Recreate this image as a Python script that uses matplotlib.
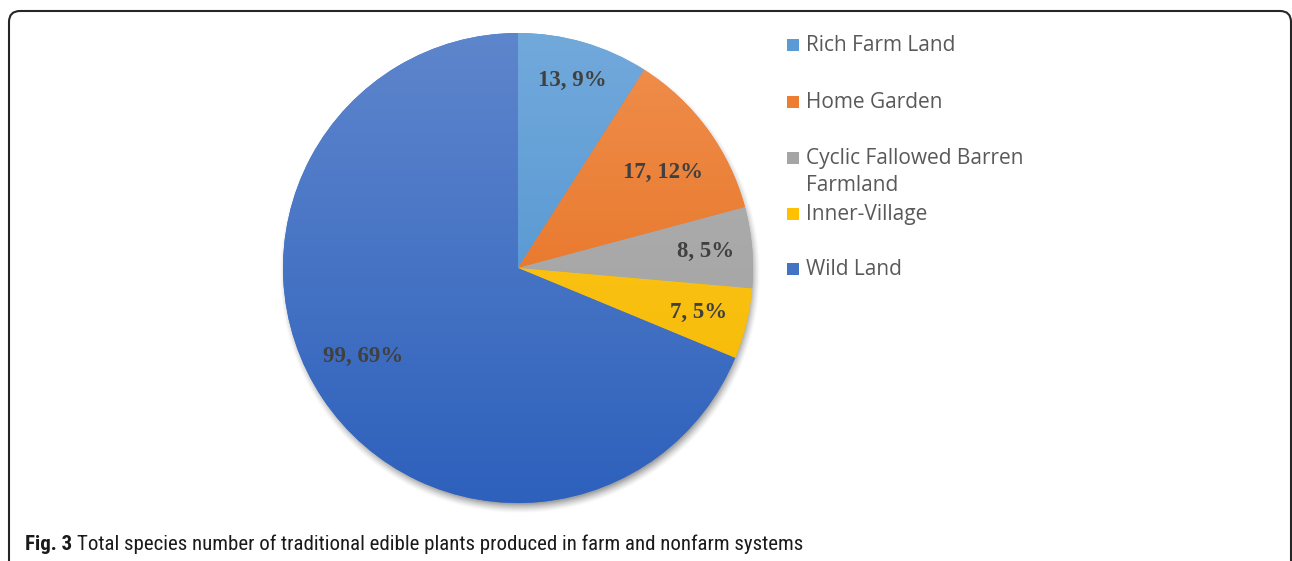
import numpy as np
import matplotlib
matplotlib.use("Agg")
import matplotlib.pyplot as plt
import matplotlib.colors as mcolors
from matplotlib.patches import FancyBboxPatch

# species counts per land-use system (clockwise from 12 o'clock)
systems = ["Rich Farm Land", "Home Garden", "Cyclic Fallowed Barren\nFarmland",
           "Inner-Village", "Wild Land"]
species = [13, 17, 8, 7, 99]
share_pct = [9, 12, 5, 5, 69]
colors = ["#5B9BD5", "#ED7D31", "#A5A5A5", "#FFC000", "#4472C4"]

W, H = 1292, 561
fig = plt.figure(figsize=(W / 100, H / 100), dpi=100)
ax = fig.add_axes([0, 0, 1, 1])

cx, cy, R = 518, H - 268, 235


def tint(c, f):
    c = np.array(mcolors.to_rgb(c))
    return c + (1 - c) * f


def shade(c, sat=1.16, val=0.96):
    h, s, v = mcolors.rgb_to_hsv(mcolors.to_rgb(c))
    return mcolors.hsv_to_rgb((h, min(s * sat, 1), v * val))


# soft drop shadow under the pie
xs = np.arange(cx - R - 20, cx + R + 20)
ys = np.arange(cy - R - 20, cy + R + 20)
gx, gy = np.meshgrid(xs, ys)
d = np.hypot(gx - (cx + 2), gy - (cy - 5))
a = np.clip((R + 6 - d) / 10, 0, 1) ** 1.4 * 0.5
shadow = np.zeros(d.shape + (4,))
shadow[..., :3] = 0.25
shadow[..., 3] = a
ax.imshow(shadow, extent=(xs[0], xs[-1], ys[0], ys[-1]), origin="lower",
          zorder=1, interpolation="bilinear")

labels_iter = iter(f"{v}, {p}%" for v, p in zip(species, share_pct))
wedges, _, autotexts = ax.pie(
    species, colors=colors, startangle=90, counterclock=False,
    center=(cx, cy), radius=R, autopct=lambda p: next(labels_iter),
    pctdistance=0.79, wedgeprops=dict(linewidth=0),
    textprops=dict(family="Liberation Serif", weight="bold", size=16.5,
                   color="#404040"),
    frame=True,
)
ax.set_xlim(0, W)
ax.set_ylim(0, H)
ax.set_aspect("equal")
ax.axis("off")

# each slice filled with a vertical gradient, lighter at the top
tt = np.linspace(0, 1, 256)[:, None]  # 0 = bottom, 1 = top
for w, col in zip(wedges, colors):
    w.set_zorder(2)
    top, bot = tint(col, 0.14), shade(col)
    grad = (bot + (top - bot) * tt)[:, None, :]
    img = ax.imshow(grad, extent=(cx - R, cx + R, cy - R, cy + R),
                    origin="lower", aspect="auto", zorder=3,
                    interpolation="bilinear")
    img.set_clip_path(w)

# nudge each data label along its slice's mid-angle
label_r = [0.83, 0.74, 0.80, 0.79, 0.76]
label_dang = [0, -3, 0, 0, -4]
for w, t, r, da in zip(wedges, autotexts, label_r, label_dang):
    ang = np.deg2rad((w.theta1 + w.theta2) / 2 + da)
    t.set_position((cx + r * R * np.cos(ang), cy + r * R * np.sin(ang)))
    t.set_zorder(4)

# legend entries on the right
leg_font = dict(family="Open Sans", size=15, color="#595959")
row_y = [44, 101, 157, 213, 268]
for name, col, y in zip(systems, colors, row_y):
    ax.add_patch(plt.Rectangle((787, H - y - 7), 12, 12, color=col, lw=0,
                               zorder=5))
    ax.text(806, H - y + 9, name, va="top", ha="left", linespacing=1.36,
            zorder=5, **leg_font)

# frame around the figure panel, open at the bottom
box = FancyBboxPatch((9, -40), W - 10, H - 11 + 40,
                     boxstyle="round,pad=0,rounding_size=11",
                     fill=False, ec="#262626", lw=1.5, zorder=6)
ax.add_patch(box)

# caption
cap = dict(size=15, color="#1a1a1a", va="baseline",
           family=["Roboto Condensed", "Open Sans Condensed",
                   "Liberation Sans Narrow", "Roboto"],
           stretch="condensed")
t1 = ax.text(25, H - 550, "Fig. 3", weight="bold", **cap)
fig.canvas.draw()
bb = t1.get_window_extent()
ax.text(bb.x1 + 5, H - 550, "Total species number of traditional edible plants "
        "produced in farm and nonfarm systems", **cap)

fig.savefig("out.png", dpi=100)
